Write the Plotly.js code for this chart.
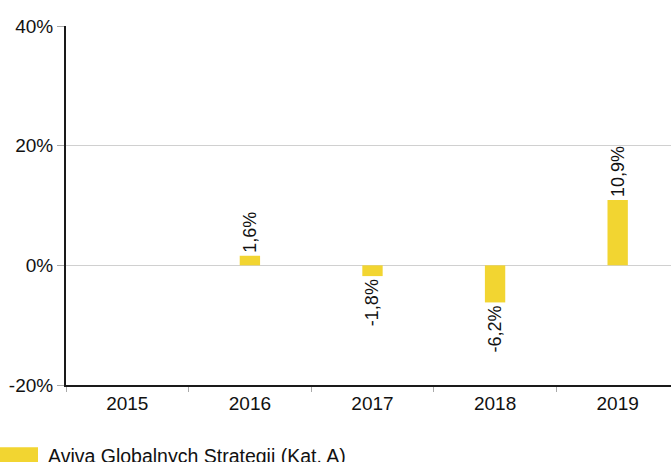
<!DOCTYPE html>
<html>
<head>
<meta charset="utf-8">
<script src="https://cdn.plot.ly/plotly-3.0.1.min.js"></script>
<style>html,body{margin:0;padding:0;background:#fff;}#chart{width:671px;height:462px;}</style>
</head>
<body>
<div id="chart"></div>
<script>
var categories = ['2015', '2016', '2017', '2018', '2019'];
var seriesName = 'Aviva Globalnych Strategii (Kat. A)';
var values = [null, 1.6, -1.8, -6.2, 10.9];
var yTickVals = [-20, 0, 20, 40];
var yTickText = ['-20%', '0%', '20%', '40%'];

var labels = values.map(function (v) {
  return v === null ? '' : v.toFixed(1).replace('.', ',') + '%';
});

var W = 671, H = 462;
var mL = 66, mR = 0, mT = 26, mB = 77;
var plotW = W - mL - mR, plotH = H - mT - mB;
var FONT = 'Liberation Sans, Arial, sans-serif';
var YELLOW = '#F2D531';

var trace = {
  type: 'bar',
  x: categories,
  y: values,
  name: seriesName,
  width: 0.166,
  marker: {color: YELLOW},
  text: labels,
  textposition: 'outside',
  textangle: -90,
  constraintext: 'none',
  cliponaxis: false,
  textfont: {family: FONT, size: 18, color: '#111'},
  hoverinfo: 'skip'
};

var layout = {
  width: W, height: H,
  margin: {l: mL, r: mR, t: mT, b: mB, pad: 0},
  paper_bgcolor: '#fff', plot_bgcolor: '#fff',
  showlegend: false,
  font: {family: FONT, size: 18, color: '#111'},
  xaxis: {
    type: 'category',
    range: [-0.5, 4.435],
    tickson: 'boundaries',
    ticks: 'outside', ticklen: 5, tickcolor: '#aaa', tickwidth: 1,
    showline: true, linecolor: '#1a1a1a', linewidth: 2,
    showgrid: false, zeroline: false,
    tickfont: {family: FONT, size: 19, color: '#111'},
    fixedrange: true
  },
  yaxis: {
    range: [-20, 40],
    tickvals: yTickVals, ticktext: yTickText,
    ticks: 'outside', ticklen: 7, tickcolor: '#aaa', tickwidth: 1,
    showline: true, linecolor: '#1a1a1a', linewidth: 2,
    showgrid: true, gridcolor: '#d0d0d0', gridwidth: 1,
    zeroline: true, zerolinecolor: '#d0d0d0', zerolinewidth: 1,
    tickfont: {family: FONT, size: 19, color: '#111'},
    fixedrange: true
  },
  shapes: [{
    type: 'rect', xref: 'paper', yref: 'paper',
    x0: -mL / plotW, x1: (38 - mL) / plotW,
    y0: -(H + 5 - (H - mB)) / plotH, y1: -(447.3 - (H - mB)) / plotH,
    fillcolor: YELLOW, line: {width: 0}
  }],
  annotations: [{
    xref: 'paper', yref: 'paper',
    x: (46 - mL) / plotW, y: -(443 - (H - mB)) / plotH,
    xanchor: 'left', yanchor: 'top',
    text: seriesName, showarrow: false,
    font: {family: FONT, size: 19.5, color: '#111'}
  }]
};

Plotly.newPlot('chart', [trace], layout, {displayModeBar: false, staticPlot: true});
</script>
</body>
</html>
